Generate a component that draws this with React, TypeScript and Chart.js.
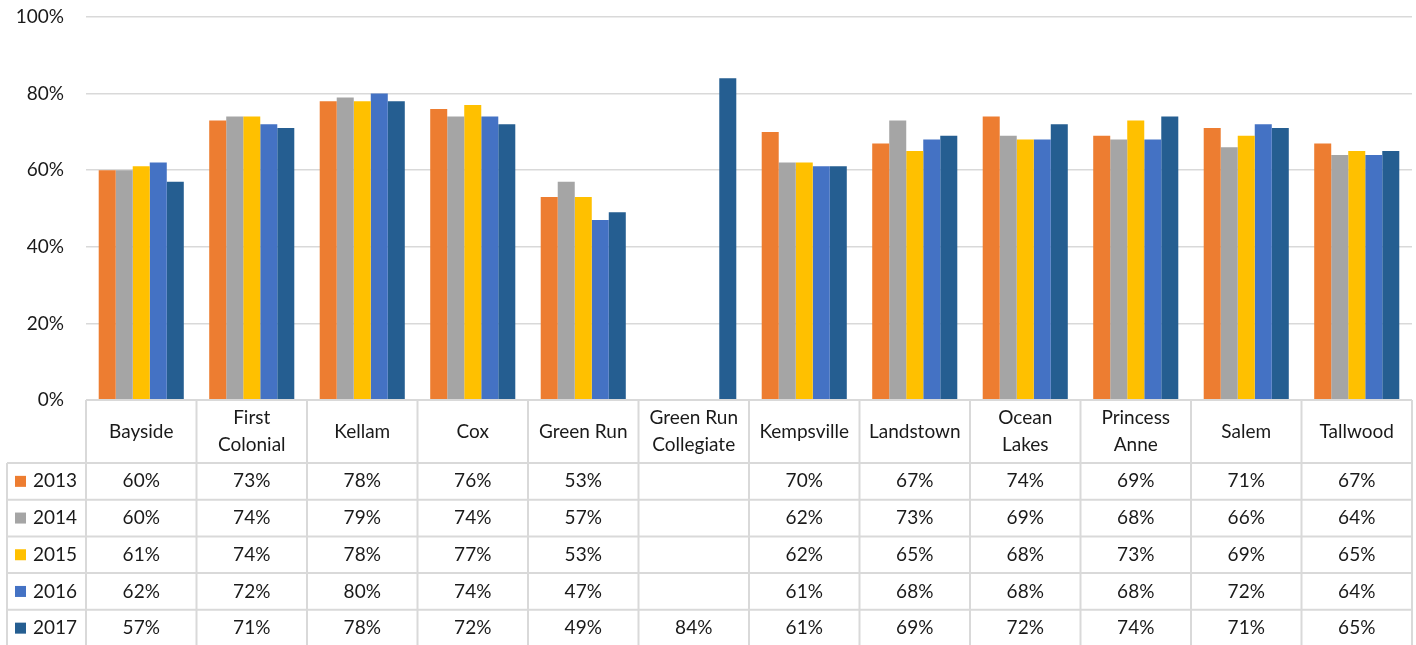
import React, { useEffect, useRef } from "react";
import { Chart, registerables } from "chart.js";

Chart.register(...registerables);

const categories: string[][] = [
  ["Bayside"],
  ["First", "Colonial"],
  ["Kellam"],
  ["Cox"],
  ["Green Run"],
  ["Green Run", "Collegiate"],
  ["Kempsville"],
  ["Landstown"],
  ["Ocean", "Lakes"],
  ["Princess", "Anne"],
  ["Salem"],
  ["Tallwood"],
];

const seriesNames = ["2013", "2014", "2015", "2016", "2017"];
const seriesColors = ["#ED7D31", "#A5A5A5", "#FFC000", "#4472C4", "#255E91"];

const v2013 = [60, 73, 78, 76, 53, null, 70, 67, 74, 69, 71, 67];
const v2014 = [60, 74, 79, 74, 57, null, 62, 73, 69, 68, 66, 64];
const v2015 = [61, 74, 78, 77, 53, null, 62, 65, 68, 73, 69, 65];
const v2016 = [62, 72, 80, 74, 47, null, 61, 68, 68, 68, 72, 64];
const v2017 = [57, 71, 78, 72, 49, 84, 61, 69, 72, 74, 71, 65];

const seriesValues = [v2013, v2014, v2015, v2016, v2017];

const yTicks = [0, 20, 40, 60, 80, 100];

const FONT = "Lato, 'Open Sans', sans-serif";
const FSIZE = 19;
const TEXT = "#1a1a1a";
const LINE = "#d9d9d9";

const tablePlugin = {
  id: "dataTable",
  afterDraw(chart: any) {
    const { ctx, chartArea, scales } = chart;
    const x = scales.x;
    const n = categories.length;
    const left = chartArea.left;
    const right = chartArea.right;
    const top = chartArea.bottom;
    const H = chart.height;
    const headerBottom = 463;
    const rowH = 36.7;
    const legendLeft = 7;
    const cw = (right - left) / n;

    ctx.save();
    ctx.strokeStyle = LINE;
    ctx.lineWidth = 2;
    ctx.beginPath();
    ctx.moveTo(left, top);
    ctx.lineTo(right, top);
    ctx.stroke();
    for (let r = 0; r < seriesNames.length; r++) {
      const y = headerBottom + r * rowH;
      ctx.beginPath();
      ctx.moveTo(legendLeft, y);
      ctx.lineTo(right, y);
      ctx.stroke();
    }
    for (let i = 0; i <= n; i++) {
      const xx = i === n ? right : x.getPixelForValue(i) - cw / 2;
      ctx.beginPath();
      ctx.moveTo(xx, top);
      ctx.lineTo(xx, H);
      ctx.stroke();
    }
    ctx.beginPath();
    ctx.moveTo(legendLeft, headerBottom);
    ctx.lineTo(legendLeft, H);
    ctx.stroke();

    ctx.fillStyle = TEXT;
    ctx.font = `${FSIZE}px ${FONT}`;
    ctx.textAlign = "center";
    ctx.textBaseline = "middle";
    const headerMid = (top + headerBottom) / 2;
    categories.forEach((lines, i) => {
      const cx = x.getPixelForValue(i);
      const lh = 27;
      lines.forEach((t, k) => {
        const y = headerMid + (k - (lines.length - 1) / 2) * lh;
        ctx.fillText(t, cx, y);
      });
    });
    seriesNames.forEach((name, r) => {
      const cy = headerBottom + r * rowH + rowH / 2;
      ctx.fillStyle = seriesColors[r];
      ctx.fillRect(15, cy - 5.5, 11, 11);
      ctx.fillStyle = TEXT;
      ctx.textAlign = "left";
      ctx.fillText(name, 33, cy);
      ctx.textAlign = "center";
      seriesValues[r].forEach((v, i) => {
        if (v === null || v === undefined) return;
        ctx.fillText(v + "%", x.getPixelForValue(i), cy);
      });
    });
    ctx.restore();
  },
};

export default function App() {
  const ref = useRef<HTMLCanvasElement>(null);
  useEffect(() => {
    if (!ref.current) return;
    const chart = new Chart(ref.current, {
      type: "bar",
      data: {
        labels: categories,
        datasets: seriesNames.map((name, i) => ({
          label: name,
          data: seriesValues[i],
          backgroundColor: seriesColors[i],
          borderWidth: 0,
          barPercentage: 1,
          categoryPercentage: 0.77,
        })),
      },
      options: {
        responsive: false,
        animation: false,
        layout: { padding: { top: 17, right: 4, bottom: 245, left: 0 } },
        plugins: { legend: { display: false }, tooltip: { enabled: false } },
        scales: {
          x: { display: false },
          y: {
            min: 0,
            max: 100,
            afterFit(scale: any) {
              scale.width = 86;
              scale.paddingTop = 0;
              scale.paddingBottom = 0;
            },
            afterBuildTicks(scale: any) {
              scale.ticks = yTicks.map((v) => ({ value: v }));
            },
            ticks: {
              padding: 22,
              color: TEXT,
              font: { family: FONT, size: FSIZE },
              callback: (v: any) => v + "%",
            },
            border: { display: false },
            grid: { color: LINE, lineWidth: 1.5, drawTicks: false },
          },
        },
      },
      plugins: [tablePlugin],
    });
    return () => chart.destroy();
  }, []);
  return (
    <div style={{ position: "absolute", left: 0, top: 0, width: 1416, height: 645 }}>
      <canvas ref={ref} width={1416} height={645} />
    </div>
  );
}
